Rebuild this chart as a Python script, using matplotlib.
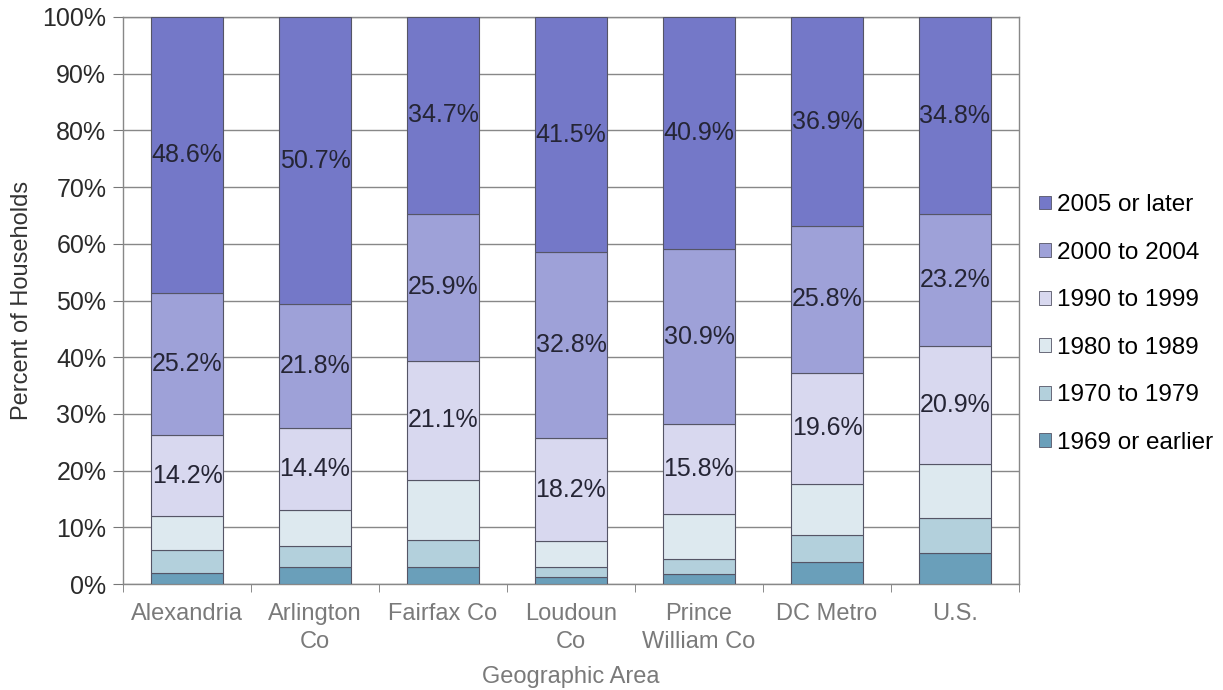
import numpy as np
import matplotlib
matplotlib.use("Agg")
import matplotlib.pyplot as plt
from matplotlib.patches import Patch

plt.rcParams['font.family'] = ['Liberation Sans', 'DejaVu Sans']

# 数据
areas = ['Alexandria', 'Arlington\nCo', 'Fairfax Co', 'Loudoun\nCo', 'Prince\nWilliam Co', 'DC Metro', 'U.S.']
series = ['1969 or earlier', '1970 to 1979', '1980 to 1989', '1990 to 1999', '2000 to 2004', '2005 or later']
y1969 = [2.0, 3.0, 3.0, 1.3, 1.7, 3.8, 5.5]
y1970 = [4.0, 3.7, 4.8, 1.7, 2.7, 4.8, 6.2]
y1980 = [6.0, 6.4, 10.5, 4.5, 8.0, 9.1, 9.4]
y1990 = [14.2, 14.4, 21.1, 18.2, 15.8, 19.6, 20.9]
y2000 = [25.2, 21.8, 25.9, 32.8, 30.9, 25.8, 23.2]
y2005 = [48.6, 50.7, 34.7, 41.5, 40.9, 36.9, 34.8]
# 只有后三组有标注
labeled = [False, False, False, True, True, True]

colors = ['#6a9fba', '#b3d0dc', '#dde9ef', '#d8d8ef', '#9ea1d8', '#7478c8']
data = [y1969, y1970, y1980, y1990, y2000, y2005]

fig = plt.figure(figsize=(12.23, 6.9), dpi=100)
ax = fig.add_axes([123/1223, 1-584/690, (1019-123)/1223, (584-17)/690])

x = np.arange(len(areas))
bottom = np.zeros(len(areas))
for vals, c, lab, name in zip(data, colors, labeled, series):
    vals = np.array(vals)
    ax.bar(x, vals, 0.56, bottom=bottom, color=c, edgecolor='#555566', linewidth=0.8, zorder=3, label=name)
    if lab:
        for xi, b, v in zip(x, bottom, vals):
            ax.text(xi, b+v/2, '%.1f%%' % v, ha='center', va='center', fontsize=18, color='#252535', zorder=4)
    bottom += vals

ax.set_xlim(-0.5, len(areas)-0.5)
ax.set_ylim(0, 100)
ax.set_yticks(np.arange(0, 101, 10))
ax.set_yticklabels(['%d%%' % v for v in range(0, 101, 10)], fontsize=18, color='#2a2a2a')
ax.yaxis.grid(True, color='#888888', linewidth=1.0, zorder=0)
ax.set_xticks(x)
ax.set_xticklabels(areas, fontsize=17, color='#7a7a7a', linespacing=1.3)
ax.set_xticks(np.arange(-0.5, len(areas), 1), minor=True)
ax.tick_params(axis='x', which='major', length=0, pad=14)
ax.tick_params(axis='x', which='minor', length=6, color='#777777', direction='out')
ax.tick_params(axis='y', length=7, color='#777777', direction='out', pad=5)
for s in ax.spines.values():
    s.set_color('#888888')
    s.set_linewidth(1.0)

ax.set_ylabel('Percent of Households', fontsize=17, color='#333333', labelpad=7)
ax.set_xlabel('Geographic Area', fontsize=17, color='#7a7a7a', labelpad=10)

# 图例，倒序
handles = [Patch(facecolor=c, edgecolor='#555566', linewidth=0.6) for c in colors][::-1]
fig.legend(handles, series[::-1], loc='center left', bbox_to_anchor=(1017/1223, 1-324/690),
           frameon=False, fontsize=17.5, handlelength=0.5, handleheight=0.5, handletextpad=0.25,
           labelspacing=1.05)

fig.savefig('out.png', dpi=100)
